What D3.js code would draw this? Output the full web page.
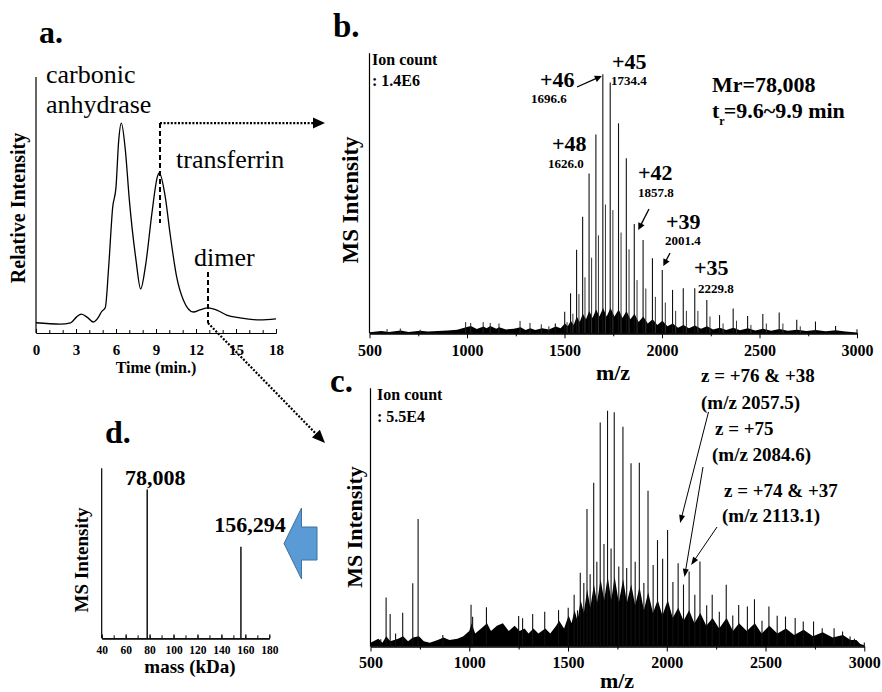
<!DOCTYPE html>
<html>
<head>
<meta charset="utf-8">
<script src="https://d3js.org/d3.v7.min.js"></script>
<style>
body { margin: 0; background: #fff; }
svg text { font-family: "Liberation Serif", "Times New Roman", serif; fill: #000; }
.b { font-weight: bold; }
</style>
</head>
<body>
<div id="fig"></div>
<script>
// Panel a: size exclusion chromatogram
// ======================================
var chromTime = [0, 1.8, 2.6, 3.05, 3.4, 3.9, 4.3, 4.7, 4.9, 5.2, 5.45, 5.75, 6.0, 6.2, 6.4, 6.7, 7.0, 7.5, 7.85, 8.2, 8.7, 9.1, 9.25, 9.7, 10.05, 10.55, 11.05, 11.8, 12.3, 12.9, 13.7, 14.3, 15.3, 16.8, 18];
var chromIntensity = [4.0, 3.5, 4.0, 6.3, 7.4, 5.9, 4.3, 6.3, 8.2, 10, 25.8, 49, 57, 75, 82, 71.5, 52, 28.5, 17.2, 25.8, 47, 61, 62.5, 53, 39, 21.9, 12.9, 8.2, 9, 9.8, 8.6, 7, 5.9, 5.1, 5.5];
var timeTicks = [0, 3, 6, 9, 12, 15, 18];
var transferrinTime = 9.3;
var dimerTime = 12.9;

// Panel b: transferrin monomer spectrum
// ======================================
var bPeakMz = [1453, 1501, 1531, 1562, 1593, 1626.0, 1661, 1696.6, 1734.4, 1777, 1817, 1857.8, 1903, 1951, 2001.4, 2054, 2109, 2168, 2229.8, 2295, 2365, 2439, 2517, 2601, 2691, 2787, 2890];
var bPeakInt = [3.5, 7.7, 14.3, 29.8, 41.6, 57.1, 71, 92.5, 89.6, 75, 62.5, 39, 33.3, 26.8, 22.6, 15.5, 16.1, 16.1, 11.9, 6.5, 8.9, 6.2, 6.9, 7.4, 4.8, 4.2, 2.6];
var bSatMz = [1513, 1543, 1574, 1605, 1639, 1674, 1710, 1748, 1790, 1831, 1872, 1917, 1966, 2017, 2070, 2125, 2184, 2246, 2313, 2382, 2456, 2535, 2620, 2709];
var bSatInt = [4, 7, 14, 20, 27, 35, 46, 44, 36, 30, 19, 16, 13, 11, 8, 8, 8, 6, 3.5, 4.5, 3, 3.5, 3.5, 2.5];
var bSpikeMz = [590, 658, 760, 993, 1019, 1083, 1119, 1164, 1272, 1323, 1381, 1420];
var bSpikeInt = [1.5, 1.7, 1.3, 4, 3.7, 4, 3.7, 3.5, 4.4, 3.7, 3.2, 2.5];
// baseline "grass" under the peaks, read as a jagged outline
var bEnvMz = [500, 560, 600, 660, 700, 760, 800, 850, 900, 950, 995, 1020, 1050, 1085, 1100, 1120, 1150, 1165, 1200, 1240, 1275, 1300, 1325, 1350, 1385, 1420, 1455, 1480, 1502, 1517, 1532, 1547, 1563, 1578, 1594, 1610, 1627, 1644, 1662, 1679, 1698, 1716, 1736, 1756, 1778, 1797, 1818, 1838, 1859, 1880, 1904, 1927, 1952, 1976, 2002, 2028, 2055, 2082, 2110, 2138, 2169, 2200, 2231, 2262, 2296, 2330, 2366, 2400, 2440, 2478, 2518, 2560, 2602, 2645, 2692, 2740, 2788, 2840, 2891, 2940, 3000];
var bEnvInt = [0.4, 0.8, 0.5, 1, 0.5, 0.9, 0.6, 0.8, 1, 1.3, 2.2, 2.6, 1.5, 2.4, 1.8, 2.6, 1.6, 2.2, 1.4, 1.6, 2.2, 1.2, 1.8, 1.2, 1.8, 1.4, 2.4, 1.8, 3.5, 2.5, 4.5, 3, 6, 4, 7, 5, 8, 5.5, 8.5, 6, 9, 6, 9, 6, 8.5, 5.5, 8, 5, 7, 4, 6, 3.5, 5, 3, 4.5, 2.5, 3.5, 2, 3, 1.8, 2.8, 1.6, 2.5, 1.4, 2, 1.2, 2, 1.1, 1.8, 1, 1.6, 0.9, 1.5, 0.9, 1.3, 0.8, 1.2, 0.7, 1.1, 0.6, 0.3];
var bLabels = [
    {z: "+46", mz: "1696.6"},
    {z: "+45", mz: "1734.4"},
    {z: "+48", mz: "1626.0"},
    {z: "+42", mz: "1857.8"},
    {z: "+39", mz: "2001.4"},
    {z: "+35", mz: "2229.8"}
];

// Panel c: dimer region spectrum
// ======================================
var cPeakMz = [552, 579, 599.5, 627, 663, 714, 741, 866, 1009, 1017, 1087, 1250, 1270, 1321, 1382, 1452, 1501, 1531, 1548, 1562, 1580, 1596, 1612, 1630, 1646, 1663, 1682, 1700, 1718, 1734, 1757, 1778, 1797, 1819, 1840, 1861, 1884, 1905, 1931, 1953, 1979, 2004, 2031, 2057.5, 2084.6, 2113.1, 2142, 2168, 2202, 2230, 2266, 2301, 2334, 2364, 2408, 2444, 2482, 2517, 2559, 2601, 2650, 2691, 2743, 2787, 2847, 2890, 2928, 2950];
var cPeakInt = [2.8, 19, 12.6, 5, 13.1, 24.5, 49.4, 4.5, 16.2, 11.5, 15.2, 11.8, 10.9, 12.6, 13.5, 14.1, 15, 20, 14, 28.6, 24.6, 53.3, 28, 63.4, 32.8, 86.8, 39.7, 91.3, 38, 90.7, 31, 85.1, 30.4, 71, 32.8, 71.2, 24.6, 60.3, 31.6, 41.2, 34, 45.1, 25, 32.2, 24, 29, 20, 32.9, 16, 20, 13.5, 23.9, 12, 16.1, 15.5, 18.3, 10, 15.5, 11.9, 11.6, 11, 9.7, 9.7, 7.1, 7.1, 5.8, 3.9, 3];
var cEnvMz = [500, 540, 560, 580, 600, 640, 665, 690, 715, 745, 770, 800, 840, 870, 900, 940, 970, 1000, 1012, 1030, 1060, 1090, 1110, 1140, 1170, 1200, 1230, 1255, 1280, 1300, 1325, 1350, 1385, 1410, 1440, 1455, 1480, 1503, 1518, 1533, 1548, 1564, 1580, 1597, 1613, 1631, 1647, 1665, 1683, 1701, 1719, 1736, 1757, 1779, 1798, 1820, 1840, 1862, 1884, 1906, 1930, 1954, 1978, 2005, 2030, 2058, 2085, 2113, 2140, 2170, 2200, 2232, 2265, 2303, 2335, 2366, 2405, 2446, 2480, 2519, 2560, 2603, 2645, 2693, 2740, 2789, 2840, 2892, 2930, 2960, 2980, 3000];
var cEnvInt = [1.5, 3, 1.5, 4, 2, 3, 4, 2, 3.5, 4, 2, 1.5, 2.5, 3.5, 2.5, 3, 4, 6, 9, 5, 7, 9, 6, 8, 9, 6, 8, 6, 7, 5, 7, 5, 7, 5, 8, 10, 7, 12, 9, 14, 10, 18, 13, 22, 15, 24, 17, 26, 18, 27, 18, 27, 17, 26, 17, 24, 16, 23, 14, 21, 13, 18, 12, 18, 11, 15, 10, 14, 9, 13, 8, 11, 7, 11, 6, 9, 6, 9, 5, 8, 5, 7, 4.5, 6.5, 4, 5.5, 3.5, 4.5, 2.5, 2.5, 1, 0.5];
var cLabels = [
    ["z = +76 & +38", "(m/z 2057.5)"],
    ["z = +75", "(m/z 2084.6)"],
    ["z = +74 & +37", "(m/z 2113.1)"]
];
var mzTicks = [500, 1000, 1500, 2000, 2500, 3000];

// Panel d: deconvoluted masses
// ======================================
var massKDa = [78.008, 156.294];
var massInt = [87.6, 53.9];
var massLabels = ["78,008", "156,294"];
var massTicks = [40, 60, 80, 100, 120, 140, 160, 180];

// Set up the canvas
// ======================================
var svg = d3.select("#fig")
    .append("svg")
    .attr("width", 882)
    .attr("height", 692);

// Little helper for a straight arrow with a filled head
function arrow(g, x1, y1, x2, y2, o) {
    var dx = x2 - x1, dy = y2 - y1;
    var L = Math.sqrt(dx * dx + dy * dy);
    var ux = dx / L, uy = dy / L;
    var bx = x2 - ux * o.len, by = y2 - uy * o.len;
    g.append("line")
        .attr("x1", x1).attr("y1", y1)
        .attr("x2", bx + ux).attr("y2", by + uy)
        .attr("stroke", "#000")
        .attr("stroke-width", o.w)
        .attr("stroke-dasharray", o.dash || null);
    g.append("path")
        .attr("d", "M" + x2 + "," + y2 +
            "L" + (bx - uy * o.half) + "," + (by + ux * o.half) +
            "L" + (bx + uy * o.half) + "," + (by - ux * o.half) + "Z")
        .attr("fill", "#000");
}

function text(g, x, y, s, size, bold, anchor) {
    return g.append("text")
        .attr("x", x).attr("y", y)
        .attr("font-size", size)
        .attr("class", bold ? "b" : null)
        .attr("text-anchor", anchor || "start")
        .text(s);
}

function styleAxis(sel, size) {
    sel.select(".domain").attr("stroke", "#000").attr("stroke-width", 1.2);
    sel.selectAll(".tick line").attr("stroke", "#000").attr("stroke-width", 1);
    sel.selectAll(".tick text")
        .attr("font-size", size)
        .attr("font-weight", "bold")
        .attr("font-family", "Liberation Serif, Times New Roman, serif")
        .attr("fill", "#000");
}

// Panel a
// ======================================
var gA = svg.append("g");
var xa = d3.scaleLinear().domain([0, 18]).range([36, 276]);
var ya = d3.scaleLinear().domain([0, 100]).range([333, 77]);

gA.append("g")
    .attr("transform", "translate(0," + ya(0) + ")")
    .call(d3.axisBottom(xa).tickValues(d3.range(0, 19, 1)).tickSize(-3).tickSizeOuter(0).tickFormat(""))
    .call(styleAxis, 15);
gA.append("g")
    .attr("transform", "translate(0," + ya(0) + ")")
    .call(d3.axisBottom(xa).tickValues(timeTicks).tickSize(-4).tickSizeOuter(0).tickPadding(11))
    .call(styleAxis, 15);
gA.append("line")
    .attr("x1", xa(0)).attr("x2", xa(0))
    .attr("y1", ya(0)).attr("y2", ya(100))
    .attr("stroke", "#000").attr("stroke-width", 1.2);

gA.append("path")
    .datum(d3.zip(chromTime, chromIntensity))
    .attr("fill", "none")
    .attr("stroke", "#000")
    .attr("stroke-width", 1.3)
    .attr("d", d3.line()
        .x(function(d) { return xa(d[0]); })
        .y(function(d) { return ya(d[1]); })
        .curve(d3.curveMonotoneX));

text(gA, 39, 43, "a.", 32, true);
text(gA, 46, 83, "carbonic", 26, false);
text(gA, 46, 113, "anhydrase", 26, false);
text(gA, 176, 168, "transferrin", 26, false);
text(gA, 194, 266, "dimer", 26, false);
text(gA, 156, 373, "Time (min.)", 16, true, "middle");
text(gA, 0, 0, "Relative Intensity", 20, true, "middle")
    .attr("transform", "translate(25,208)rotate(-90)");

// Fraction markers and the dotted arrows to the spectra
gA.append("line")
    .attr("x1", xa(transferrinTime)).attr("x2", xa(transferrinTime))
    .attr("y1", ya(82)).attr("y2", ya(43))
    .attr("stroke", "#000").attr("stroke-width", 2).attr("stroke-dasharray", "5,3");
arrow(gA, xa(transferrinTime), ya(82), 325, ya(82), {len: 12, half: 5.5, w: 2.2, dash: "2,1.6"});

gA.append("line")
    .attr("x1", xa(dimerTime)).attr("x2", xa(dimerTime))
    .attr("y1", ya(23.8)).attr("y2", ya(3.9))
    .attr("stroke", "#000").attr("stroke-width", 2).attr("stroke-dasharray", "5,3");
arrow(gA, xa(dimerTime), ya(3.9), 325, 443, {len: 13, half: 5.5, w: 2.2, dash: "2,1.6"});

// Panel b
// ======================================
var gB = svg.append("g");
var xb = d3.scaleLinear().domain([500, 3000]).range([369.5, 857]);
var yb = d3.scaleLinear().domain([0, 100]).range([333.3, 53.3]);

function drawGrass(g, x, y, envMz, envInt) {
    g.append("path")
        .datum(d3.zip(envMz, envInt))
        .attr("fill", "#000")
        .attr("d", d3.area()
            .x(function(d) { return x(d[0]); })
            .y0(y(0))
            .y1(function(d) { return y(d[1]); }));
}

function drawSticks(g, x, y, mzs, ints, color, w) {
    g.selectAll(null)
        .data(d3.zip(mzs, ints))
        .enter()
        .append("line")
        .attr("x1", function(d) { return x(d[0]); })
        .attr("x2", function(d) { return x(d[0]); })
        .attr("y1", y(0))
        .attr("y2", function(d) { return y(d[1]); })
        .attr("stroke", color)
        .attr("stroke-width", w);
}

drawGrass(gB, xb, yb, bEnvMz, bEnvInt);
drawSticks(gB, xb, yb, bSpikeMz, bSpikeInt, "#222", 1);
drawSticks(gB, xb, yb, bSatMz, bSatInt, "#333", 1);
drawSticks(gB, xb, yb, bPeakMz, bPeakInt, "#111", 1.1);

gB.append("g")
    .attr("transform", "translate(0," + yb(0) + ")")
    .call(d3.axisBottom(xb).tickValues([750, 1250, 1750, 2250, 2750]).tickSize(3).tickSizeOuter(0).tickFormat(""))
    .call(styleAxis, 16);
gB.append("g")
    .attr("transform", "translate(0," + yb(0) + ")")
    .call(d3.axisBottom(xb).tickValues(mzTicks).tickSize(5).tickSizeOuter(0).tickPadding(6).tickFormat(d3.format("d")))
    .call(styleAxis, 16);
gB.append("line")
    .attr("x1", xb(500)).attr("x2", xb(500))
    .attr("y1", yb(0)).attr("y2", yb(100))
    .attr("stroke", "#000").attr("stroke-width", 1.2);
gB.append("line")
    .attr("x1", xb(3000)).attr("x2", xb(3000))
    .attr("y1", yb(0)).attr("y2", yb(0) - 4)
    .attr("stroke", "#000");

text(gB, 333, 37, "b.", 33, true);
text(gB, 372, 65, "Ion count", 16, true);
text(gB, 372, 86, ": 1.4E6", 16, true);
text(gB, 613, 380, "m/z", 22, true, "middle");
text(gB, 0, 0, "MS Intensity", 23, true, "middle")
    .attr("transform", "translate(358,200)rotate(-90)");
text(gB, 712, 92, "Mr=78,008", 22, true);
var tr = text(gB, 712, 118, "t", 22, true);
tr.append("tspan").attr("font-size", 12).attr("dy", 7).text("r");
tr.append("tspan").attr("dy", -7).attr("dx", -1).text("=9.6~9.9 min");

// charge state labels
var bPos = [[540, 87, 531, 103], [612, 69, 611, 85], [552, 151, 548, 168], [638, 180, 638, 197], [666, 229, 665, 245], [694, 275, 698, 293]];
bLabels.forEach(function(l, i) {
    text(gB, bPos[i][0], bPos[i][1], l.z, 22, true);
    text(gB, bPos[i][2], bPos[i][3], l.mz, 13, true);
});
arrow(gB, 577, 87, xb(1696.6) - 1, 76, {len: 7, half: 3.5, w: 1.3});
arrow(gB, 649, 209, xb(1857.8) + 4, 230, {len: 7, half: 3.5, w: 1.3});
arrow(gB, 670, 253, xb(2001.4) + 1, 266, {len: 7, half: 3.5, w: 1.3});

// Panel c
// ======================================
var gC = svg.append("g");
var xc = d3.scaleLinear().domain([500, 3000]).range([370.5, 864.3]);
var yc = d3.scaleLinear().domain([0, 100]).range([646.5, 388.3]);

drawGrass(gC, xc, yc, cEnvMz, cEnvInt);
drawSticks(gC, xc, yc, cPeakMz, cPeakInt, "#111", 1.1);

gC.append("g")
    .attr("transform", "translate(0," + yc(0) + ")")
    .call(d3.axisBottom(xc).tickValues([750, 1250, 1750, 2250, 2750]).tickSize(3).tickSizeOuter(0).tickFormat(""))
    .call(styleAxis, 16);
gC.append("g")
    .attr("transform", "translate(0," + yc(0) + ")")
    .call(d3.axisBottom(xc).tickValues(mzTicks).tickSize(5).tickSizeOuter(0).tickPadding(5).tickFormat(d3.format("d")))
    .call(styleAxis, 16);
gC.append("line")
    .attr("x1", xc(500)).attr("x2", xc(500))
    .attr("y1", yc(0)).attr("y2", yc(100))
    .attr("stroke", "#000").attr("stroke-width", 1.2);
gC.append("line")
    .attr("x1", xc(3000)).attr("x2", xc(3000))
    .attr("y1", yc(0)).attr("y2", yc(0) - 4)
    .attr("stroke", "#000");

text(gC, 330, 392, "c.", 33, true);
text(gC, 377, 400, "Ion count", 16, true);
text(gC, 377, 422, ": 5.5E4", 16, true);
text(gC, 617, 688, "m/z", 22, true, "middle");
text(gC, 0, 0, "MS Intensity", 22, true, "middle")
    .attr("transform", "translate(362,527)rotate(-90)");

var cPos = [[701, 382, 701, 409], [715, 435, 712, 461], [724, 497, 722, 522]];
cLabels.forEach(function(l, i) {
    text(gC, cPos[i][0], cPos[i][1], l[0], 19, true);
    text(gC, cPos[i][2], cPos[i][3], l[1], 19, true);
});
arrow(gC, 708.5, 412, xc(2057.5) + 2, 523, {len: 8, half: 3, w: 1});
arrow(gC, 703, 467, xc(2084.6) + 1, 577, {len: 8, half: 3, w: 1});
arrow(gC, 717, 527, xc(2113.1) + 2, 565, {len: 8, half: 3, w: 1});

// Panel d
// ======================================
var gD = svg.append("g");
var xd = d3.scaleLinear().domain([40, 180]).range([101.7, 269.3]);
var yd = d3.scaleLinear().domain([0, 100]).range([638.3, 468.3]);

drawSticks(gD, xd, yd, massKDa, massInt, "#000", 1.4);

gD.append("g")
    .attr("transform", "translate(0," + yd(0) + ")")
    .call(d3.axisBottom(xd).tickValues(d3.range(40, 181, 10)).tickSize(-3).tickSizeOuter(0).tickFormat(""))
    .call(styleAxis, 11.5);
gD.append("g")
    .attr("transform", "translate(0," + yd(0) + ")")
    .call(d3.axisBottom(xd).tickValues(massTicks).tickSize(-4).tickSizeOuter(0).tickPadding(8))
    .call(styleAxis, 11.5);
gD.append("line")
    .attr("x1", xd(40)).attr("x2", xd(40))
    .attr("y1", yd(0)).attr("y2", yd(100))
    .attr("stroke", "#000").attr("stroke-width", 1.2);

text(gD, 105, 443, "d.", 32, true);
text(gD, xd(massKDa[0]) + 8, 485, massLabels[0], 22, true, "middle");
text(gD, xd(massKDa[1]) + 9, 532, massLabels[1], 22, true, "middle");
text(gD, 190, 673, "mass (kDa)", 19, true, "middle");
text(gD, 0, 0, "MS Intensity", 19, true, "middle")
    .attr("transform", "translate(88,560)rotate(-90)");

// the blue block arrow pointing from c to d
gD.append("path")
    .attr("d", "M284,543.5L301.5,508L301.5,527L317,527L317,560L301.5,560L301.5,579Z")
    .attr("fill", "#5b9bd5")
    .attr("stroke", "#41719c")
    .attr("stroke-width", 1);
</script>
</body>
</html>
